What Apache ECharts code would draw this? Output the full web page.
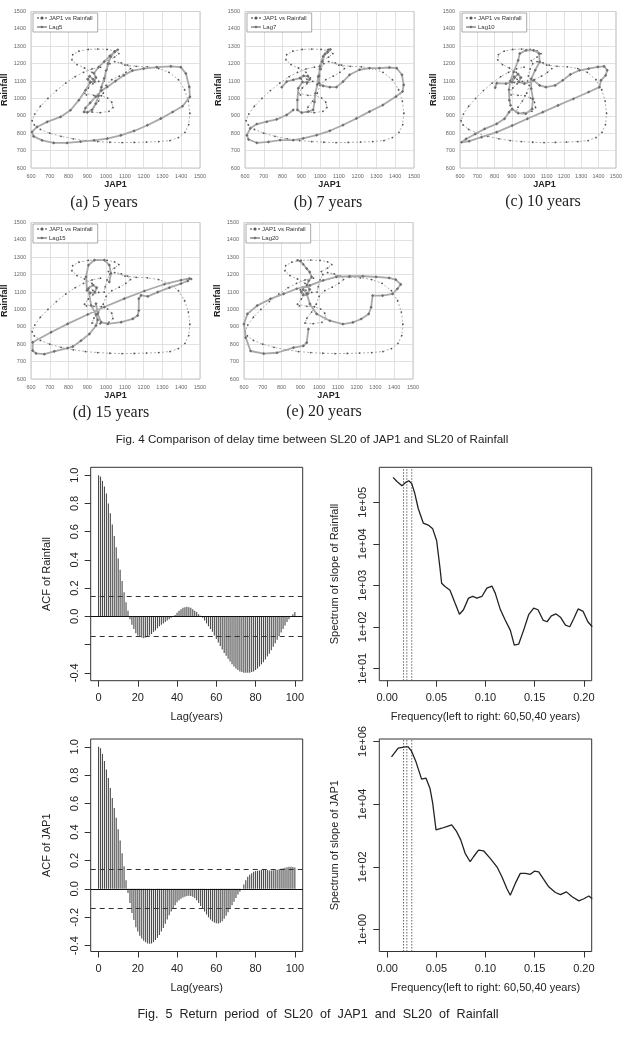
<!DOCTYPE html>
<html><head><meta charset="utf-8">
<script src="https://cdn.jsdelivr.net/npm/echarts@6/dist/echarts.min.js"></script>
<style>html,body{margin:0;padding:0;background:#fff}#c{width:625px;height:1051px}</style>
</head><body><div id="c"></div>
<script>
// ---------------- DATA ----------------
const scatterXTicks = [600,700,800,900,1000,1100,1200,1300,1400,1500];
const scatterYTicks = [600,700,800,900,1000,1100,1200,1300,1400,1500];
const panelCaptions = ['(a) 5 years','(b) 7 years','(c) 10 years','(d) 15 years','(e) 20 years'];
const lagNames = ['Lag5','Lag7','Lag10','Lag15','Lag20'];

// JAP1 vs Rainfall (no lag), [JAP1, Rainfall]
const jap1VsRainfall = [[930,1110],[912,1128],[900,1112],[912,1092],[936,1096],[948,1118],
[925,1150],[885,1175],[845,1195],[818,1222],[822,1252],[855,1272],[905,1282],[955,1284],[1005,1282],[1045,1274],[1068,1258],
[1045,1238],[1012,1218],[1020,1200],[1005,1170],[995,1130],[990,1100],[960,1098],[930,1085],[905,1060],[885,1030],[895,1020],
[935,1018],[975,1016],[1008,1002],[1030,978],[1036,948],[1015,926],[968,918],[925,922],[935,950],[960,985],[985,1030],[1000,1075],
[1030,1108],[1070,1128],[1105,1150],[1130,1172],[1115,1192],[1080,1205],[1045,1212],
[1100,1192],[1160,1185],[1220,1182],[1280,1172],[1335,1150],[1385,1108],[1418,1050],[1438,985],[1446,915],[1440,850],[1420,805],
[1385,775],[1340,758],[1280,752],[1215,749],[1150,747],[1085,746],[1020,748],[955,752],[890,758],[825,768],[760,782],[700,800],
[650,822],[618,848],[606,872],[620,910],[650,955],[690,1000],[735,1045],[785,1088],[835,1125],[880,1150],[925,1170],[970,1180]];

const lag5 = [[930,1110],[912,1128],[903,1110],[915,1092],[938,1098],[945,1122],[935,1145],[960,1180],[990,1212],[1020,1245],
[1045,1268],[1062,1280],[1048,1270],[1025,1240],[1010,1200],[1000,1160],[990,1115],[975,1065],[960,1015],[945,970],[925,935],
[900,920],[882,922],[890,945],[915,975],[945,1010],[975,1045],[1006,1066],[1050,1100],[1095,1133],[1140,1160],[1200,1172],
[1270,1180],[1345,1185],[1398,1180],[1425,1143],[1443,1066],[1446,1009],[1407,955],[1354,922],[1291,884],[1220,846],[1149,813],
[1078,788],[1006,769],[935,759],[864,752],[792,744],[721,744],[659,759],[614,782],[605,807],[632,836],[686,865],[757,894],
[810,932],[855,990],[890,1047],[917,1095]];

const lag7 = [[796,1065],[822,1097],[857,1107],[893,1117],[912,1130],[935,1128],[945,1110],[930,1092],[905,1095],[884,1059],
[879,991],[879,934],[902,918],[937,924],[963,934],[970,980],[975,1030],[985,1080],[990,1126],[1000,1170],[1012,1213],[1025,1255],
[1043,1280],[1055,1282],[1040,1265],[1016,1242],[998,1184],[995,1130],[995,1088],[1016,1072],[1052,1065],[1087,1065],[1122,1097],
[1157,1136],[1210,1165],[1263,1174],[1316,1174],[1369,1178],[1408,1174],[1436,1136],[1445,1078],[1439,1040],[1404,1011],[1334,962],
[1263,924],[1193,885],[1122,847],[1052,814],[981,789],[910,770],[857,760],[787,760],[725,750],[663,745],[619,764],[610,789],
[628,828],[663,853],[716,866],[769,880],[822,905],[857,934]];

const lag10 = [[803,1062],[812,1088],[865,1085],[901,1094],[915,1120],[935,1140],[952,1120],[940,1095],[972,1085],[1025,1104],
[1060,1075],[1096,1065],[1149,1075],[1193,1104],[1237,1138],[1290,1162],[1343,1171],[1396,1181],[1432,1185],[1450,1162],[1441,1133],
[1414,1104],[1405,1065],[1343,1037],[1255,998],[1166,960],[1078,921],[989,883],[901,844],[812,806],[724,777],[653,754],[609,748],
[635,767],[688,796],[742,825],[812,854],[857,883],[883,921],[901,940],[936,915],[980,912],[1016,940],[1021,998],[1011,1056],
[1011,1113],[1034,1162],[1060,1210],[1057,1258],[1025,1277],[981,1277],[945,1258],[936,1219],[910,1152],[890,1100],[883,1050],
[885,990],[892,960]];

const lag15 = [[1017,1158],[1026,1207],[1017,1255],[991,1284],[938,1284],[906,1255],[893,1187],[898,1110],[915,1095],[940,1100],
[950,1125],[930,1140],[905,1120],[920,1023],[946,970],[955,940],[946,907],[911,859],[866,820],[822,786],[795,778],[724,759],
[671,743],[627,747],[609,763],[609,811],[707,869],[795,917],[902,971],[991,1014],[1097,1062],[1204,1106],[1310,1145],[1399,1168],
[1444,1178],[1453,1175],[1435,1164],[1399,1149],[1337,1125],[1275,1100],[1222,1075],[1186,1081],[1174,1062],[1174,994],[1168,965],
[1142,946],[1080,927],[1009,917],[973,927],[955,975],[946,1033]];

const lag20 = [[943,887],[934,809],[916,790],[864,780],[776,751],[705,746],[635,761],[609,838],[600,916],[618,974],[670,1022],
[741,1061],[811,1090],[881,1119],[951,1138],[1022,1167],[1092,1187],[1162,1191],[1233,1191],[1303,1187],[1373,1181],[1408,1171],
[1435,1144],[1417,1119],[1391,1090],[1338,1080],[1285,1080],[1277,1013],[1264,974],[1224,945],[1180,926],[1127,916],[1057,935],
[987,974],[951,1032],[934,1090],[915,1115],[905,1100],[915,1082],[940,1090],[950,1115],[935,1140],[945,1165],[960,1187],[950,1215],
[934,1235],[915,1260],[900,1278],[885,1283]];

// ACF (lag 0..100)
const acfRainfall = [1.00,0.99,0.96,0.92,0.87,0.80,0.73,0.65,0.57,0.49,
0.41,0.33,0.25,0.17,0.10,0.04,-0.02,-0.06,-0.09,-0.12,
-0.135,-0.145,-0.15,-0.155,-0.15,-0.145,-0.135,-0.125,-0.11,-0.10,
-0.085,-0.07,-0.06,-0.05,-0.04,-0.03,-0.02,-0.01,0.00,0.01,
0.025,0.04,0.05,0.06,0.065,0.068,0.065,0.06,0.05,0.04,
0.03,0.015,0.005,-0.01,-0.03,-0.05,-0.07,-0.09,-0.11,-0.135,
-0.16,-0.185,-0.21,-0.235,-0.26,-0.28,-0.30,-0.32,-0.34,-0.355,
-0.37,-0.38,-0.39,-0.395,-0.40,-0.40,-0.40,-0.40,-0.395,-0.39,
-0.38,-0.37,-0.355,-0.34,-0.325,-0.305,-0.285,-0.265,-0.24,-0.215,
-0.19,-0.165,-0.14,-0.115,-0.09,-0.065,-0.04,-0.02,0.00,0.015,
0.03];
const acfJap1 = [1.00,0.99,0.95,0.90,0.84,0.78,0.71,0.64,0.57,0.50,
0.42,0.34,0.25,0.16,0.06,-0.03,-0.10,-0.17,-0.22,-0.27,
-0.30,-0.33,-0.35,-0.365,-0.375,-0.385,-0.386,-0.385,-0.375,-0.36,
-0.345,-0.325,-0.30,-0.275,-0.245,-0.215,-0.185,-0.16,-0.135,-0.115,
-0.095,-0.08,-0.07,-0.06,-0.055,-0.05,-0.048,-0.05,-0.055,-0.065,
-0.08,-0.10,-0.12,-0.14,-0.16,-0.18,-0.20,-0.215,-0.228,-0.237,
-0.242,-0.243,-0.238,-0.228,-0.21,-0.19,-0.165,-0.14,-0.115,-0.09,
-0.065,-0.04,-0.02,0.00,0.03,0.06,0.085,0.10,0.11,0.12,
0.125,0.128,0.13,0.132,0.133,0.133,0.132,0.13,0.13,0.131,
0.133,0.135,0.138,0.141,0.145,0.149,0.152,0.155,0.156,0.154,
0.15];
const acfConfLimit = 0.14;
const acfXTicks = [0,20,40,60,80,100];
const acfYTicks = [-0.4,-0.2,0.0,0.2,0.4,0.6,0.8,1.0];
const acfYLabelsRainfall = [-0.4,0.0,0.2,0.4,0.6,0.8,1.0];
const acfYLabelsJap1 = [-0.4,-0.2,0.0,0.2,0.4,0.6,0.8,1.0];

// Spectrum of slope
const specFreqRainfall = [0.006,0.010,0.015,0.019,0.022,0.025,0.028,0.0316,0.0367,0.0418,0.0463,0.0503,0.0537,0.0554,0.0588,
0.0639,0.069,0.0735,0.0776,0.0827,0.0871,0.0912,0.0963,0.1014,0.1065,0.1099,0.115,0.12,0.1252,0.1293,0.1337,0.1388,0.1439,
0.149,0.1534,0.1585,0.1626,0.167,0.1718,0.1762,0.1813,0.1857,0.1898,0.1942,0.1993,0.2041,0.2085];
const specRainfall = [3.98e5,3.16e5,2.51e5,3.02e5,3.31e5,2.82e5,1.66e5,7.08e4,3.16e4,2.82e4,2.29e4,1.20e4,2630,1120,933,
759,372,200,257,490,537,490,537,851,955,646,263,145,83,36,38,83,195,
282,257,145,132,182,204,170,110,100,158,269,234,132,100];
const specFreqJap1 = [0.0044,0.0112,0.018,0.0214,0.0248,0.0293,0.035,0.0395,0.0435,0.0463,0.0497,0.0554,0.0605,0.0656,0.0707,
0.0748,0.0793,0.0844,0.0878,0.0929,0.098,0.1048,0.1116,0.1167,0.1218,0.1252,0.1303,0.1354,0.1405,0.1456,0.1497,0.1541,0.1585,
0.1643,0.1711,0.1762,0.1823,0.1881,0.1949,0.2,0.2051,0.2085];
const specJap1 = [3.24e5,6.17e5,6.76e5,6.76e5,4.90e5,2.24e5,6.31e4,6.76e4,3.24e4,1.07e4,1510,1700,1910,2190,1320,
724,269,145,209,339,324,186,100,47.9,20.0,12.3,29.5,61.7,61.7,57.5,72.4,69.2,42.7,
22.9,15.1,12.9,15.8,11.0,8.13,9.55,11.7,9.55];
const periodsYears = [60,50,40];
const specXTicks = [0,0.05,0.10,0.15,0.20];
const specXLabels = ['0.00','0.05','0.10','0.15','0.20'];
const specYTicksRainfall = [10,100,1000,10000,100000];
const specYLabelsRainfall = ['1e+01','1e+02','1e+03','1e+04','1e+05'];
const specYTicksJap1 = [1,100,10000,1000000];
const specYLabelsJap1 = ['1e+00','1e+02','1e+04','1e+06'];

const fig4Caption = 'Fig. 4 Comparison of delay time between SL20 of JAP1 and SL20 of Rainfall';
const fig5Caption = 'Fig.  5  Return  period  of  SL20  of  JAP1  and  SL20  of  Rainfall';

// ---------------- BUILD ----------------
const lagSeries = [lag5, lag7, lag10, lag15, lag20];
const SANS = '"Liberation Sans", Arial, sans-serif';
const grids=[], xAxes=[], yAxes=[], series=[], legends=[], graphics=[];

function txt(x, y, text, font, opts) {
  opts = opts || {};
  graphics.push({type:'text', x:x, y:y, rotation: opts.rot || 0, silent:true, z:10,
    style:{text:text, font:font, fill: opts.fill || '#222', align: opts.align || 'center', verticalAlign: opts.va || 'middle'}});
}

const P = [
  {left:31, top:11.5, capX:104, capY:203},
  {left:245, top:11.5, capX:328, capY:203},
  {left:460, top:11.5, capX:543, capY:202},
  {left:31, top:222.5, capX:111, capY:413},
  {left:244, top:222.5, capX:324, capY:412}
];
const PW = 169, PH = 156.5;

P.forEach((p, i) => {
  grids.push({left:p.left, top:p.top, width:PW, height:PH, show:true, borderColor:'#b5b5b5', borderWidth:0.8, backgroundColor:'#fff'});
  const axisCommon = {gridIndex:i, type:'value', interval:100,
    axisLine:{show:false, onZero:false}, axisTick:{show:false},
    splitLine:{show:true, lineStyle:{color:'#d6d6d6', width:0.7}},
    axisLabel:{fontSize:5.5, color:'#666', margin:5, fontFamily:SANS, formatter: v => String(v)}};
  xAxes.push(Object.assign({}, axisCommon, {min:scatterXTicks[0], max:scatterXTicks[scatterXTicks.length-1]}));
  yAxes.push(Object.assign({}, axisCommon, {min:scatterYTicks[0], max:scatterYTicks[scatterYTicks.length-1]}));
  series.push({type:'line', name:'JAP1 vs Rainfall', xAxisIndex:i, yAxisIndex:i, data:jap1VsRainfall,
    symbol:'circle', symbolSize:1.8, lineStyle:{color:'#9c9c9c', width:0.8, type:[2,2]}, itemStyle:{color:'#555'}, z:2, silent:true});
  series.push({type:'line', name:lagNames[i], xAxisIndex:i, yAxisIndex:i, data:lagSeries[i],
    symbol:'diamond', symbolSize:3.2, lineStyle:{color:'#a9a9a9', width:1.8}, itemStyle:{color:'#6e6e6e'}, z:3, silent:true});
  legends.push({data:['JAP1 vs Rainfall', lagNames[i]], left:p.left+2, top:p.top+1.5, orient:'vertical',
    itemGap:3, itemWidth:10, itemHeight:4, padding:[2,5,2,3], backgroundColor:'#fff', borderColor:'#8a8a8a', borderWidth:0.7,
    selectedMode:false, textStyle:{fontSize:6, color:'#333', fontFamily:SANS, padding:[0,0,0,-3]}});
  txt(p.left + PW/2, p.top + PH + 16.5, 'JAP1', 'bold 9px ' + SANS);
  txt(p.left - 26, p.top + PH/2, 'Rainfall', 'bold 9px ' + SANS, {rot: Math.PI/2});
  txt(p.capX, p.capY, panelCaptions[i], '16px "Liberation Serif", "DejaVu Serif", serif');
});

// R-style panels
const R = [
  {kind:'acf', left:90.7, top:467.3, w:212, h:213.4, data:acfRainfall, ymin:-0.456, ymax:1.056, ylab:acfYLabelsRainfall, title:'ACF of Rainfall'},
  {kind:'spec', left:379.3, top:467.3, w:212.4, h:213.4, fx:specFreqRainfall, fy:specRainfall, lmin:0.70, lmax:5.843,
    yt:specYTicksRainfall, yl:specYLabelsRainfall, title:'Spectrum of slope of Rainfall'},
  {kind:'acf', left:90.7, top:739, w:212, h:212.5, data:acfJap1, ymin:-0.441, ymax:1.055, ylab:acfYLabelsJap1, title:'ACF of JAP1'},
  {kind:'spec', left:379.3, top:739, w:212.4, h:212.5, fx:specFreqJap1, fy:specJap1, lmin:-0.705, lmax:6.08,
    yt:specYTicksJap1, yl:specYLabelsJap1, title:'Spectrum of slope of JAP1'}
];
const tickStyle = {show:true, length:6, lineStyle:{color:'#333', width:1}};
const labStyle = {fontSize:11, color:'#222', fontFamily:SANS};
const noLine = {show:false, onZero:false};

R.forEach((r, k) => {
  const gi = P.length + k;
  grids.push({left:r.left, top:r.top, width:r.w, height:r.h, show:true, borderColor:'#333', borderWidth:1, backgroundColor:'#fff'});
  if (r.kind === 'acf') {
    xAxes.push({gridIndex:gi, type:'value', min:-4, max:104, axisLine:noLine, splitLine:{show:false},
      axisTick:Object.assign({customValues:acfXTicks}, tickStyle),
      axisLabel:Object.assign({customValues:acfXTicks, margin:12}, labStyle)});
    yAxes.push({gridIndex:gi, type:'value', min:r.ymin, max:r.ymax, axisLine:noLine, splitLine:{show:false},
      axisTick:Object.assign({customValues:acfYTicks}, tickStyle),
      axisLabel:Object.assign({customValues:r.ylab, margin:10, rotate:90, formatter:v => Number(v).toFixed(1)}, labStyle)});
    series.push({type:'bar', xAxisIndex:gi, yAxisIndex:gi, barWidth:1.1, silent:true,
      data:r.data.map((v, lag) => [lag, v]), itemStyle:{color:'#4a4a4a'},
      markLine:{silent:true, symbol:['none','none'], label:{show:false},
        data:[
          {yAxis:0, lineStyle:{color:'#111', width:1.2, type:'solid'}},
          {yAxis:acfConfLimit, lineStyle:{color:'#333', width:1.1, type:[5,4]}},
          {yAxis:-acfConfLimit, lineStyle:{color:'#333', width:1.1, type:[5,4]}}
        ]}});
    txt(r.left + r.w/2, r.top + r.h + 36, 'Lag(years)', '11px ' + SANS);
    txt(46.7, r.top + r.h/2, r.title, '11px ' + SANS, {rot: Math.PI/2});
  } else {
    const yMin = Math.pow(10, r.lmin), yMax = Math.pow(10, r.lmax);
    xAxes.push({gridIndex:gi, type:'value', min:-0.008, max:0.208, axisLine:noLine, splitLine:{show:false},
      axisTick:Object.assign({customValues:specXTicks}, tickStyle),
      axisLabel:Object.assign({customValues:specXTicks, margin:12, formatter:v => specXLabels[specXTicks.findIndex(t => Math.abs(t - v) < 1e-9)]}, labStyle)});
    yAxes.push({gridIndex:gi, type:'log', logBase:10, min:yMin, max:yMax,
      axisLine:noLine, splitLine:{show:false},
      axisTick:Object.assign({customValues:r.yt}, tickStyle),
      axisLabel:Object.assign({customValues:r.yt, margin:11, rotate:90,
        formatter:v => r.yl[r.yt.findIndex(t => Math.abs(Math.log10(t) - Math.log10(v)) < 1e-6)]}, labStyle)});
    // dotted reference lines at 1/60, 1/50, 1/40
    periodsYears.forEach(py => {
      series.push({type:'line', xAxisIndex:gi, yAxisIndex:gi, symbol:'none', silent:true, z:1,
        data:[[1/py, yMin], [1/py, yMax]], lineStyle:{color:'#555', width:0.9, type:[1.5,1.5]}});
    });
    series.push({type:'line', xAxisIndex:gi, yAxisIndex:gi, symbol:'none', silent:true, z:3,
      data:r.fx.map((f, j) => [f, r.fy[j]]), lineStyle:{color:'#222', width:1.3}});
    txt(r.left + r.w/2, r.top + r.h + 36, 'Frequency(left to right: 60,50,40 years)', '11px ' + SANS);
    txt(335, r.top + r.h/2, r.title, '11px ' + SANS, {rot: Math.PI/2});
  }
});

txt(312, 440, fig4Caption, '11.6px "Liberation Sans", Arial, sans-serif');
txt(318, 1015, fig5Caption, '12.6px "Liberation Sans", Arial, sans-serif');

const chart = echarts.init(document.getElementById('c'), null, {renderer:'canvas'});
chart.setOption({
  animation:false, backgroundColor:'#fff',
  grid:grids, xAxis:xAxes, yAxis:yAxes, legend:legends, series:series, graphic:graphics
});
</script></body></html>
